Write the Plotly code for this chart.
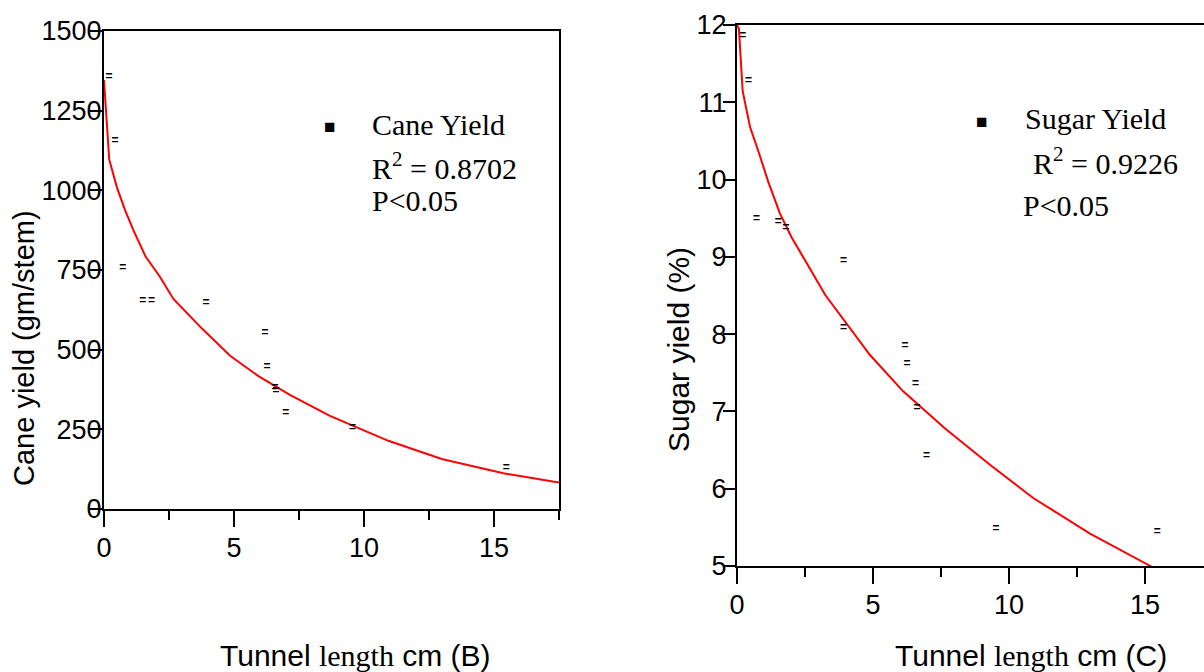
import plotly.graph_objects as go

W, H = 1204, 672

# ---- Data: Cane yield (panel B) ----
cane_x = [0.19, 0.42, 0.72, 1.49, 1.83, 3.92, 6.19, 6.27, 6.58, 6.62, 6.99, 9.56, 15.47]
cane_y = [1356, 1155, 756, 654, 654, 645, 553, 445, 379, 370, 302, 253, 128]
cane_fit_x = [0, 0.2, 0.49, 0.81, 1.13, 1.6, 2.15, 2.67, 3.76, 4.85, 5.94, 7.15, 8.69, 10.94, 12.99, 15.36, 17.5]
cane_fit_y = [1346, 1097, 1011, 938, 875, 792, 729, 659, 567, 481, 417, 358, 292, 214, 157, 112, 83]

# ---- Data: Sugar yield (panel C) ----
sugar_x = [0.21, 0.42, 0.72, 1.52, 1.80, 3.92, 3.92, 6.18, 6.25, 6.56, 6.62, 6.97, 9.52, 15.45]
sugar_y = [11.86, 11.28, 9.49, 9.45, 9.37, 8.95, 8.08, 7.85, 7.62, 7.35, 7.04, 6.42, 5.48, 5.44]
sugar_fit_x = [0, 0.07, 0.21, 0.48, 0.81, 1.15, 1.58, 2.01, 2.56, 3.24, 4.89, 6.11, 7.65, 9.3, 10.89, 12.98, 15.25]
sugar_fit_y = [12.0, 11.95, 11.14, 10.68, 10.34, 9.97, 9.56, 9.25, 8.92, 8.51, 7.73, 7.26, 6.78, 6.31, 5.88, 5.42, 4.99]

cane_ticks = [0, 250, 500, 750, 1000, 1250, 1500]
sugar_ticks = [5, 6, 7, 8, 9, 10, 11, 12]
x_ticks = [0, 5, 10, 15]

SANS = "Liberation Sans, Arial, sans-serif"
SERIF = "Liberation Serif, Times New Roman, serif"

def px(x):
    return x / W

def py(y):
    return 1 - y / H

fig = go.Figure()

MARK_FONT = dict(family="Liberation Sans, Arial, sans-serif", size=12, color="black")

# Panel B
fig.add_trace(go.Scatter(x=cane_fit_x, y=cane_fit_y, mode="lines",
                         line=dict(color="#ff0000", width=2), xaxis="x", yaxis="y",
                         showlegend=False, hoverinfo="skip"))
fig.add_trace(go.Scatter(x=cane_x, y=cane_y, mode="text", text=["<b>=</b>"] * len(cane_x),
                         textfont=MARK_FONT, xaxis="x", yaxis="y", showlegend=False))
# Panel C
fig.add_trace(go.Scatter(x=sugar_fit_x, y=sugar_fit_y, mode="lines",
                         line=dict(color="#ff0000", width=2), xaxis="x2", yaxis="y2",
                         showlegend=False, hoverinfo="skip"))
fig.add_trace(go.Scatter(x=sugar_x, y=sugar_y, mode="text", text=["<b>=</b>"] * len(sugar_x),
                         textfont=MARK_FONT, xaxis="x2", yaxis="y2", showlegend=False))

axis_common = dict(showgrid=False, zeroline=False, showline=True, linecolor="black",
                   linewidth=2, ticks="outside", tickcolor="black", tickwidth=2,
                   tickfont=dict(family=SANS, size=27, color="black"), automargin=False)

fig.update_layout(
    width=W, height=H,
    margin=dict(l=0, r=0, t=0, b=0),
    paper_bgcolor="white", plot_bgcolor="white",
    xaxis=dict(**axis_common, domain=[px(104), px(559)], range=[0, 17.5],
               tickvals=x_ticks, ticklen=16, mirror=True, anchor="y",
               ticklabelstandoff=-2,
               minor=dict(dtick=2.5, tick0=0, ticks="outside", ticklen=9,
                          tickwidth=2, tickcolor="black", showgrid=False)),
    yaxis=dict(**axis_common, domain=[py(509), py(31)], range=[0, 1500],
               tickvals=cane_ticks, ticklen=12, mirror=True, anchor="x",
               ticklabelstandoff=-17),
    xaxis2=dict(**axis_common, domain=[px(737), 1.0], range=[0, (1204 - 737) / 27.2],
                tickvals=x_ticks, ticklen=16, mirror=True, anchor="y2",
                ticklabelstandoff=-2,
                minor=dict(dtick=2.5, tick0=0, ticks="outside", ticklen=9,
                           tickwidth=2, tickcolor="black", showgrid=False)),
    yaxis2=dict(**axis_common, domain=[py(566), py(25)], range=[5, 12],
                tickvals=sugar_ticks, ticklen=12, mirror=False, anchor="x2",
                ticklabelstandoff=-9),
)

ann = []
# Axis titles
ann.append(dict(x=px(355), y=py(655), xref="paper", yref="paper", showarrow=False,
                text='Tunnel <span style="font-family:Liberation Serif">length</span> cm (B)',
                font=dict(family=SANS, size=30, color="black"), xanchor="center", yanchor="middle"))
ann.append(dict(x=px(1031), y=py(655), xref="paper", yref="paper", showarrow=False,
                text='Tunnel <span style="font-family:Liberation Serif">length</span> cm (C)',
                font=dict(family=SANS, size=30, color="black"), xanchor="center", yanchor="middle"))
ann.append(dict(x=px(24), y=py(348), xref="paper", yref="paper", showarrow=False,
                text="Cane yield (gm/stem)", textangle=-90,
                font=dict(family=SANS, size=29, color="black"), xanchor="center", yanchor="middle"))
ann.append(dict(x=px(678), y=py(350), xref="paper", yref="paper", showarrow=False,
                text="Sugar yield (%)", textangle=-90,
                font=dict(family=SANS, size=30, color="black"), xanchor="center", yanchor="middle"))

# Legends (text blocks)
def legend_block(xsq, ysq, xtext, lines, baselines):
    out = [dict(x=px(xsq), y=py(ysq), xref="paper", yref="paper", showarrow=False,
                text="■", font=dict(family=SANS, size=19, color="black"),
                xanchor="center", yanchor="middle")]
    for (t, xt), b in zip(zip(lines, xtext), baselines):
        out.append(dict(x=px(xt), y=py(b - 12), xref="paper", yref="paper", showarrow=False,
                        text=t, font=dict(family=SERIF, size=30, color="black"),
                        xanchor="left", yanchor="middle"))
    return out

ann += legend_block(329, 126, [370, 370, 370],
                    ["Cane Yield", "R<sup>2</sup> = 0.8702", "P<0.05"], [136, 178, 213])
ann += legend_block(981, 121, [1023, 1031, 1021],
                    ["Sugar Yield", "R<sup>2</sup> = 0.9226", "P<0.05"], [130, 173, 217])

fig.update_layout(annotations=ann)

fig.write_html("out.html", config={"displayModeBar": False},
               post_script="document.body.style.margin='0';document.body.style.overflow='hidden';")
